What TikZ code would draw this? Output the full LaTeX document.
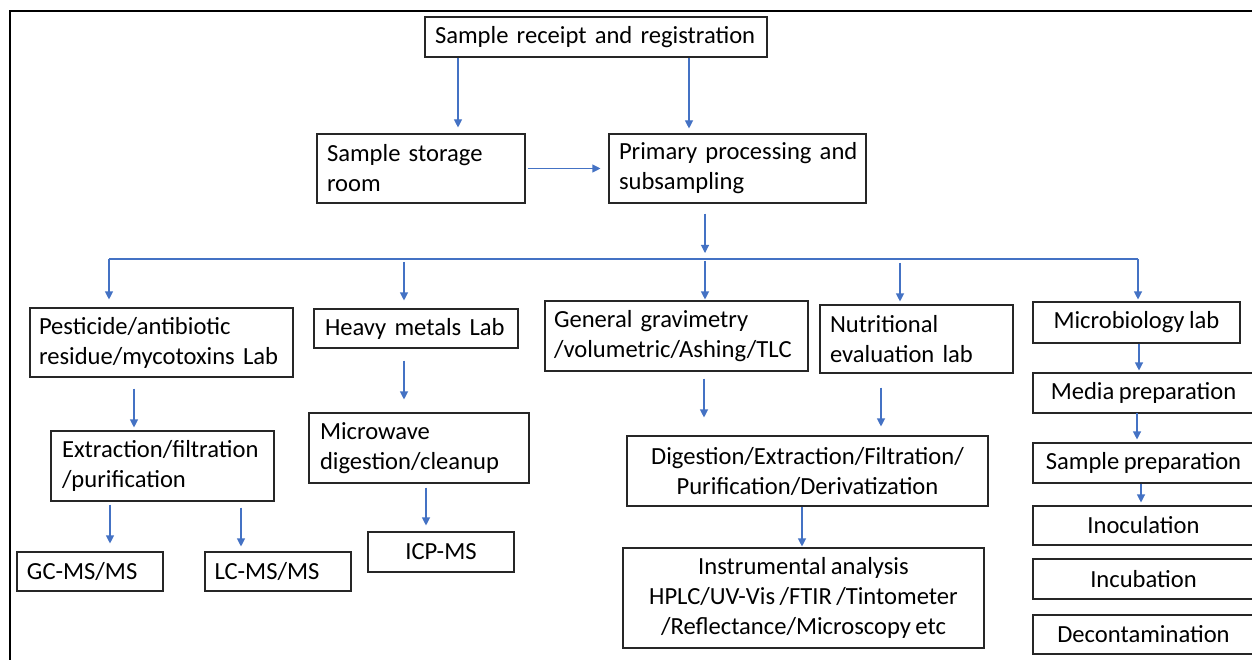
\documentclass[tikz,border=0pt]{standalone}
\usepackage{fontspec}
\setmainfont{Carlito}[WordSpace=0.8]
\usetikzlibrary{arrows.meta}
\definecolor{arrowblue}{HTML}{4472C4}
\begin{document}
\begin{tikzpicture}[x=1pt,y=-1pt,
  box/.style={draw=black!85, line width=1.1pt, inner ysep=0pt, inner xsep=10pt,
    font=\fontsize{24.6}{30}\selectfont},
  lbox/.style={box, align=left},
  cbox/.style={box, align=center},
  arr/.style={draw=arrowblue, line width=1.1pt, -{Triangle[length=8pt,width=8pt]}},
  bus/.style={draw=arrowblue, line width=1.1pt}]
\useasboundingbox (0,0) rectangle (1252,660);
\clip (0,0) rectangle (1252,660);
\fill[white] (0,0) rectangle (1252,660);
% outer frame (cropped)
\draw[line width=2pt] (10,661) -- (10,11) -- (1253,11);

% nodes
\node[lbox, minimum width=342pt, text width=322pt, minimum height=40pt] (recv) at (596,37) {Sample receipt and registration};
\node[lbox, minimum width=208pt, text width=188pt, minimum height=69pt] (store) at (421,168.5) {Sample storage\\room};
\node[lbox, minimum width=257pt, text width=237pt, minimum height=69pt] (prim) at (737.5,168.5) {\mbox{Primary processing and}\\subsampling};

\node[lbox, minimum width=263pt, text width=245pt, inner xsep=9pt, minimum height=69pt] (pest) at (161.5,342.5) {Pesticide/antibiotic\\residue/mycotoxins Lab};
\node[lbox, minimum width=204pt, text width=182pt, inner xsep=11pt, minimum height=39pt] (heavy) at (416,328.5) {Heavy metals Lab};
\node[lbox, minimum width=263pt, text width=245pt, inner xsep=9pt, minimum height=70pt] (gen) at (676.5,336) {General gravimetry\\/volumetric/Ashing/TLC};
\node[lbox, minimum width=193pt, text width=173pt, minimum height=68pt] (nutr) at (916.5,339) {Nutritional\\evaluation lab};
\node[cbox, minimum width=207pt, minimum height=41pt] (micro) at (1136.5,322.5) {Microbiology lab};

\node[lbox, minimum width=223pt, text width=201pt, inner xsep=11pt, minimum height=70pt] (extr) at (162.5,466) {Extraction/filtration\\/purification};
\node[lbox, minimum width=220pt, text width=198pt, inner xsep=11pt, minimum height=70pt] (micw) at (419,448) {Microwave\\digestion/cleanup};
\node[cbox, minimum width=361pt, minimum height=70pt] (dig) at (807.5,471) {Digestion/Extraction/Filtration/\\Purification/Derivatization};

\node[cbox, minimum width=221pt, minimum height=40pt] (media) at (1143.5,393) {Media preparation};
\node[cbox, minimum width=221pt, minimum height=40pt] (sprep) at (1143.5,463) {Sample preparation};
\node[cbox, minimum width=221pt, minimum height=39pt] (inoc) at (1143.5,525.5) {Inoculation};
\node[cbox, minimum width=221pt, minimum height=40pt] (incub) at (1143.5,579) {Incubation};
\node[cbox, minimum width=221pt, minimum height=39pt] (decon) at (1143.5,634.5) {Decontamination};

\node[lbox, minimum width=146pt, text width=126pt, minimum height=39pt] (gc) at (90,571.5) {GC-MS/MS};
\node[lbox, minimum width=146pt, text width=127pt, inner xsep=9.5pt, minimum height=39pt] (lc) at (278,571.5) {LC-MS/MS};
\node[cbox, minimum width=146pt, minimum height=40pt] (icp) at (441,552) {ICP-MS};
\node[cbox, minimum width=361pt, minimum height=100pt] (instr) at (803.5,598) {Instrumental analysis\\HPLC/UV-Vis /FTIR /Tintometer\\/Reflectance/Microscopy etc};

% connectors
\draw[arr, shorten >=6pt] (recv.south -| 458,0) -- (store.north -| 458,0);
\draw[arr, shorten >=5pt] (recv.south -| 689,0) -- (prim.north -| 689,0);
\draw[arr, shorten <=2pt, shorten >=8pt] (store.east) -- (prim.west);

\coordinate (busC) at (705,259);
\coordinate (busL) at (109,259);
\coordinate (busR) at (1138,259);
\draw[arr, shorten <=10pt, shorten >=6pt] (prim.south -| busC) -- (busC);
\draw[bus] (busL) -- (busR);
\draw[arr, shorten >=8pt] (busL) -- (pest.north -| busL);
\draw[arr, shorten <=3pt, shorten >=8pt] (busL -| 404,0) -- (heavy.north -| 404,0);
\draw[arr, shorten <=2pt, shorten >=1pt] (busC) -- (gen.north -| busC);
\draw[arr, shorten <=4pt, shorten >=3pt] (busL -| 900,0) -- (nutr.north -| 900,0);
\draw[arr, shorten >=2pt] (busR) -- (micro.north -| busR);

\draw[arr, shorten <=11pt, shorten >=3pt] (pest.south -| 134,0) -- (extr.north -| 134,0);
\draw[arr, shorten <=12pt, shorten >=13pt] (heavy.south -| 404,0) -- (micw.north -| 404,0);
\draw[arr, shorten <=7pt, shorten >=18pt] (gen.south -| 704,0) -- (dig.north -| 704,0);
\draw[arr, shorten <=14pt, shorten >=9pt] (nutr.south -| 881,0) -- (dig.north -| 881,0);

\draw[arr, shorten >=2pt] (micro.south -| 1139,0) -- (media.north -| 1139,0);
\draw[arr, shorten <=-1pt, shorten >=3pt] (media.south -| 1137,0) -- (sprep.north -| 1137,0);
\draw[arr, shorten >=3pt] (sprep.south -| 1141,0) -- (inoc.north -| 1141,0);

\draw[arr, shorten <=3pt, shorten >=8pt] (extr.south -| 110,0) -- (gc.north -| 110,0);
\draw[arr, shorten <=6pt, shorten >=5pt] (extr.south -| 241,0) -- (lc.north -| 241,0);
\draw[arr, shorten <=4pt, shorten >=6pt] (micw.south -| 426,0) -- (icp.north -| 426,0);
\draw[arr, shorten >=1pt] (dig.south -| 802,0) -- (instr.north -| 802,0);
\end{tikzpicture}
\end{document}
